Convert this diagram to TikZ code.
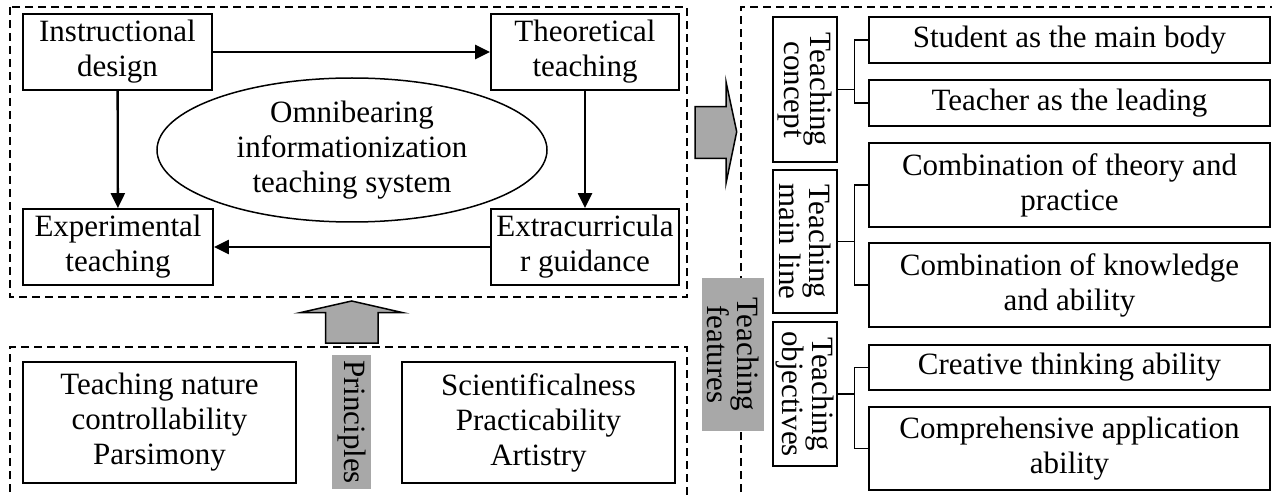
\documentclass[tikz,border=0pt]{standalone}
\usepackage{fontspec}
\setmainfont{Liberation Serif}
\usetikzlibrary{arrows.meta,shapes.geometric}
\definecolor{greyfill}{RGB}{168,168,168}
\tikzset{
  txt/.style={font=\fontsize{31}{35}\selectfont, align=center, inner sep=0pt},
  box/.style={txt, draw, line width=1.8pt, fill=white},
  rbox/.style={draw, line width=1.8pt, inner sep=0pt, align=center, rotate=-90, font=\fontsize{31}{21}\selectfont},
  greynode/.style={fill=greyfill, inner sep=0pt, align=center, rotate=-90},
  dashbox/.style={draw, dashed, dash pattern=on 8pt off 5pt, line width=1.5pt},
  arr/.style={line width=2.3pt, -{Triangle[length=15pt,width=14pt]}},
  brk/.style={line width=1.6pt},
  blockarrow/.style={draw, line width=1.5pt, fill=greyfill, line join=miter}
}
\begin{document}
\begin{tikzpicture}[x=1pt,y=-1pt]
\useasboundingbox (0,0) rectangle (1272,497);
% dashed frames
\draw[dashbox] (10,7) rectangle (687,297);
\draw[dashbox] (10,505) -- (10,347) -- (687,347) -- (687,505);
\draw[dashbox] (741,505) -- (741,7) -- (1280,7);
% top-left system
\node[box, minimum width=189pt, minimum height=76pt] (ID) at (117.5,52) {Instructional\\design};
\node[box, minimum width=188pt, minimum height=76pt] (TT) at (585,52) {Theoretical\\teaching};
\node[box, minimum width=190pt, minimum height=76pt] (ET) at (118,247) {Experimental\\teaching};
\node[box, minimum width=188pt, minimum height=76pt] (EG) at (585,247) {Extracurricula\\r guidance};
\node[txt, draw, ellipse, line width=1.5pt, minimum width=390pt, minimum height=144pt] (OM) at (352,150) {Omnibearing\\informationization\\teaching system};
\draw[arr] (ID) -- (TT);
\draw[arr] (ID) -- (ET);
\draw[arr] (TT) -- (EG);
\draw[arr] (EG) -- (ET);
% block arrows
\draw[blockarrow] (695,106.7) -- (726,106.7) -- (726,81.7) -- (736.7,131.7) -- (726,183.3) -- (726,158.3) -- (695,158.3) -- cycle;
\draw[blockarrow] (325.7,343) -- (325.7,312.7) -- (300,312.7) -- (351.7,301) -- (403,312.7) -- (378,312.7) -- (378,343) -- cycle;
% principles
\node[box, minimum width=273pt, minimum height=121pt] (TN) at (159.5,422.5) {Teaching nature\\controllability\\Parsimony};
\node[box, minimum width=273pt, minimum height=121pt] (SC) at (538.5,422.5) {Scientificalness\\Practicability\\Artistry};
\node[greynode, font=\fontsize{31}{35}\selectfont, minimum width=134pt, minimum height=39pt] (PR) at (351.5,422) {Principles};
% teaching features
\node[greynode, font=\fontsize{31}{21}\selectfont, minimum width=153pt, minimum height=62pt] (TF) at (733,354.5) {Teaching\\features};
\node[rbox, minimum width=145pt, minimum height=64pt] (TC) at (805,89.5) {Teaching\\concept};
\node[rbox, minimum width=143pt, minimum height=64pt] (TM) at (805,241.5) {Teaching\\main line};
\node[rbox, minimum width=144pt, minimum height=64pt] (TO) at (805,394) {Teaching\\objectives};
\node[box, minimum width=401pt, minimum height=46pt] (S1) at (1069.5,40) {Student as the main body};
\node[box, minimum width=401pt, minimum height=46pt] (S2) at (1069.5,103) {Teacher as the leading};
\node[box, minimum width=401pt, minimum height=84pt] (S3) at (1069.5,185) {Combination of theory and\\practice};
\node[box, minimum width=401pt, minimum height=84pt] (S4) at (1069.5,285) {Combination of knowledge\\and ability};
\node[box, minimum width=401pt, minimum height=45pt] (S5) at (1069.5,367.5) {Creative thinking ability};
\node[box, minimum width=401pt, minimum height=83pt] (S6) at (1069.5,448.5) {Comprehensive application\\ability};
% brackets
\draw[brk] (TC.north) -- ++(16.5,0) coordinate (tc);
\draw[brk] (tc) |- (S1.west);
\draw[brk] (tc) |- (S2.west);
\draw[brk] (TM.north) -- ++(16.5,0) coordinate (tm);
\draw[brk] (tm) |- (S3.west);
\draw[brk] (tm) |- (S4.west);
\draw[brk] (TO.north) -- ++(16.5,0) coordinate (to);
\draw[brk] (to) |- (S5.west);
\draw[brk] (to) |- (S6.west);
\end{tikzpicture}
\end{document}
